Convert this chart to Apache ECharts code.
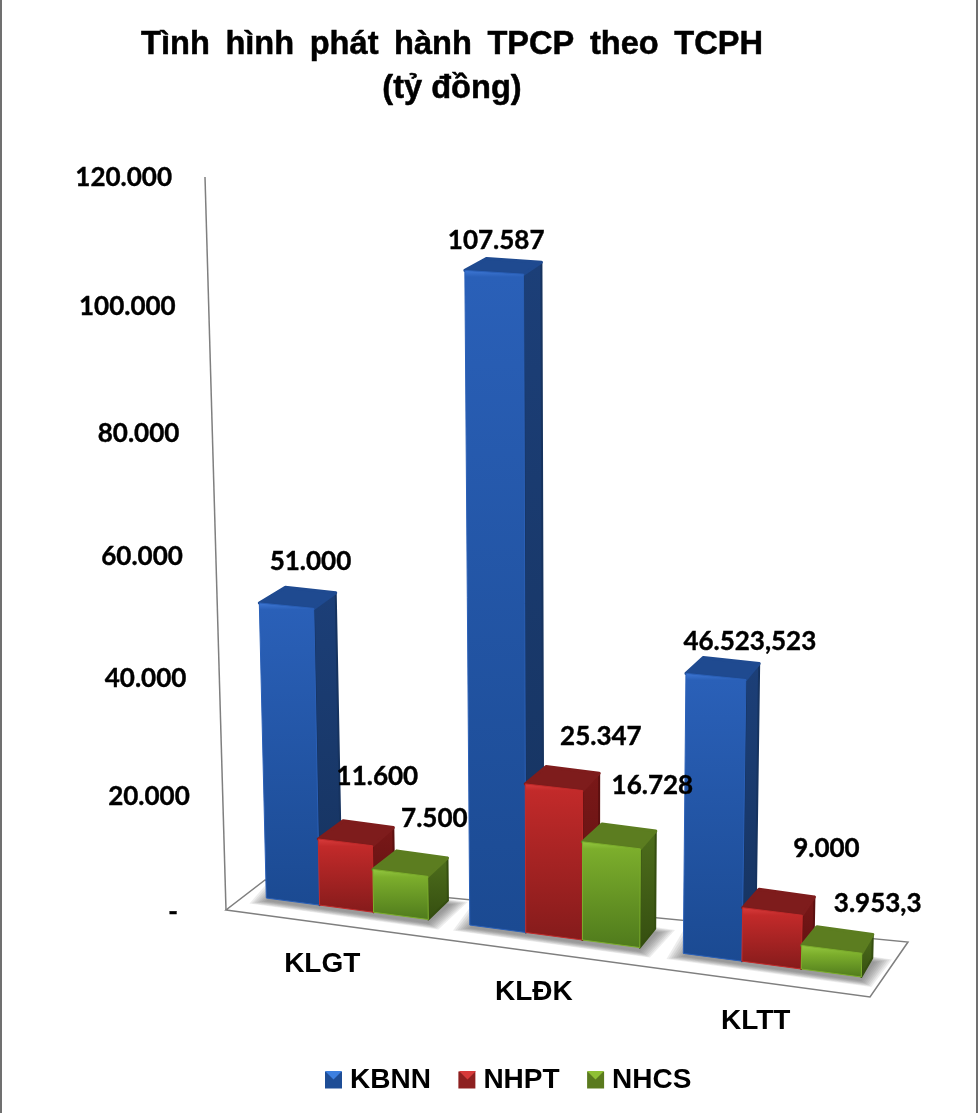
<!DOCTYPE html>
<html>
<head>
<meta charset="utf-8">
<style>
  html, body { margin: 0; padding: 0; background: #fff; }
  #chart { width: 978px; height: 1113px; }
</style>
</head>
<body>
<div id="chart"></div>
<script src="https://cdn.jsdelivr.net/npm/echarts@6/dist/echarts.min.js"></script>
<script>
// ── DATA ───────────────────────────────────────────
const categories = ['KLGT', 'KLĐK', 'KLTT'];
const seriesNames = ['KBNN', 'NHPT', 'NHCS'];
const kbnnValues = [51000, 107587, 46523.523];
const nhptValues = [11600, 25347, 9000];
const nhcsValues = [7500, 16728, 3953.3];
const tickValues = [0, 20000, 40000, 60000, 80000, 100000, 120000];

// ── LAYOUT ─────────────────────────────────────────
// label shift from the middle of a bar's front top edge, hand placed in the original
const labelShift = [
  [[24, -44], [2, -32], [34, -35]],
  [[32, -66], [47, -51], [54, -63]],
  [[34, -54], [41, -60], [46, -46]],
];
const floorCorners = [[226, 910], [870, 997], [908, 942], [265, 880]];
const wallLine = [[205, 177], [226, 910]];
const legendIcons = [325, 459, 587];

const colors = [
  { hi: '#3f78d6', front: '#2a60b8', low: '#1b4a92', top: '#1f4a90', side: '#1c3f78', sideLow: '#16335f', icon: '#1e4d96', iconHi: '#3c7fe0' },
  { hi: '#d93c3c', front: '#c22a2a', low: '#851b1b', top: '#7e1c1c', side: '#7a1818', sideLow: '#5c1010', icon: '#8e2020', iconHi: '#d63a3a' },
  { hi: '#94c840', front: '#7cae2c', low: '#4f7a1c', top: '#5c7d20', side: '#4e6e1c', sideLow: '#354e10', icon: '#5a7a1e', iconHi: '#8fc034' },
];

// ── PROJECTION ─────────────────────────────────────
// flat grid position -> picture position of the tilted 3D box
const warpX = x => x + 5 * Math.pow((x - 554) / 212.5, 2);
const warpH = h => h / (1 - h * 8.78e-5);
const floorY = x => 898 + (x - 266) * 0.1327;
const depthX = x => 26 - 0.02 * (x - 260);
const depthY = h => -19 + 1.3 * h / 115;
const scaleAt = x => 1 + (x - 469) * 0.0001;
const leanX = (x, y, y0) => 565 + (x - 565) * (13500 - y) / (13500 - y0);
const BACK_NARROW = 3; // back edge of a bar is a bit narrower than the front

// point of the front face at floor position x, flat height h
function frontPoint(x, h) {
  const base = floorY(x);
  const y = base - scaleAt(x) * warpH(h);
  return [leanX(x, y, base), y];
}

function grad(stops) {
  return {
    type: 'linear', x: 0, y: 0, x2: 0, y2: 1,
    colorStops: stops.map(([offset, color]) => ({ offset, color })),
  };
}

function fmtValue(v) {
  if (v === 0) return '-';
  const [whole, dec] = String(v).split('.');
  const txt = whole.replace(/\B(?=(\d{3})+$)/g, '.');
  return dec ? `${txt},${dec}` : txt;
}

// ── RENDERERS ──────────────────────────────────────
function renderBar(idx) {
  return (params, api) => {
    const cat = api.value(0);
    const zero = api.coord([cat, 0]);
    const h = zero[1] - api.coord([cat, api.value(1)])[1];
    const band = api.size([1, 0])[0];
    const w = band * 0.8 / 3;
    const x0 = warpX(zero[0] - band * 0.4 + w * idx);
    const x1 = warpX(zero[0] - band * 0.4 + w * (idx + 1));
    const c = colors[idx];

    const tl = frontPoint(x0, h);
    const tr = frontPoint(x1, h);
    const bl = [x0, floorY(x0)];
    const br = [x1, floorY(x1)];
    const dy = depthY(h);
    const backL = [tl[0] + depthX(tl[0]), tl[1] + dy];
    const backR = [tr[0] + depthX(tr[0]) - BACK_NARROW, tr[1] + dy];
    const brBack = [br[0] + depthX(br[0]) - BACK_NARROW, br[1] + depthY(0)];
    const front = br[1] - tr[1];
    const edge = Math.min(0.5, 7 / front);

    return {
      type: 'group',
      children: [
        {
          type: 'polygon',
          shape: { points: [tr, backR, brBack, br] },
          style: { fill: grad([[0, c.side], [1, c.sideLow]]), stroke: c.sideLow, lineWidth: 2, lineJoin: 'round' },
        },
        {
          type: 'polygon',
          shape: { points: [tl, backL, backR, tr] },
          style: { fill: c.top, stroke: c.top, lineWidth: 3, lineJoin: 'round' },
        },
        {
          type: 'polygon',
          shape: { points: [tl, tr, br, bl] },
          style: { fill: grad([[0, c.hi], [edge, c.front], [1, c.low]]), stroke: c.front, lineWidth: 1, lineJoin: 'round' },
        },
      ],
    };
  };
}

// soft shadow on the floor: stacked see-through outlines round the group's footprint
function renderFloorShadow(params, api) {
  const zero = api.coord([api.value(0), 0]);
  const band = api.size([1, 0])[0];
  const x0 = warpX(zero[0] - band * 0.4);
  const x1 = warpX(zero[0] + band * 0.4);
  const dy = depthY(0);
  const children = [];
  for (let k = 7; k >= 0; k--) {
    const e = k * 2.4;
    children.push({
      type: 'polygon',
      shape: {
        points: [
          [x0 - e, floorY(x0) + 3 + e * 0.15],
          [x1 + e * 0.6, floorY(x1) + 4 + e * 0.35],
          [x1 + depthX(x1) + e, floorY(x1) + dy + 4 - e * 0.15],
          [x0 + depthX(x0) - e, floorY(x0) + dy - e * 0.3],
        ],
      },
      style: { fill: 'rgba(90,90,90,0.11)' },
    });
  }
  return { type: 'group', children };
}

function renderCategoryLabel(params, api) {
  const zero = api.coord([api.value(0), 0]);
  const x = warpX(zero[0]);
  return {
    type: 'text',
    style: {
      text: categories[api.value(0)],
      x: x - depthX(x),
      y: floorY(x) + 56,
      textAlign: 'center',
      textVerticalAlign: 'middle',
      font: 'bold 28px "Liberation Sans"',
      fill: '#000',
    },
  };
}

function renderTick(params, api) {
  const zero = api.coord([0, 0]);
  const v = api.value(1);
  const y = zero[1] - warpH(zero[1] - api.coord([0, v])[1]);
  const [a, b] = wallLine;
  const axisX = a[0] + (b[0] - a[0]) * (y - a[1]) / (b[1] - a[1]);
  return {
    type: 'text',
    style: {
      text: fmtValue(v),
      x: axisX - (v === 0 ? 48 : 33),
      y: y + 1,
      textAlign: 'right',
      textVerticalAlign: 'middle',
      font: 'bold 26px Lato',
      fill: '#000',
      stroke: '#000',
      lineWidth: 0.4,
    },
  };
}

function renderValueLabel(params, api) {
  const cat = api.value(0);
  const v = api.value(1);
  const idx = api.value(2);
  const zero = api.coord([cat, 0]);
  const h = zero[1] - api.coord([cat, v])[1];
  const band = api.size([1, 0])[0];
  const w = band * 0.8 / 3;
  const x = warpX(zero[0] - band * 0.4 + w * (idx + 0.5));
  const p = frontPoint(x, h);
  const [sx, sy] = labelShift[idx][cat];
  return {
    type: 'text',
    style: {
      text: fmtValue(v),
      x: p[0] + sx,
      y: p[1] + sy,
      textAlign: 'center',
      textVerticalAlign: 'middle',
      font: 'bold 26px Lato',
      fill: '#000',
      stroke: '#000',
      lineWidth: 0.4,
    },
  };
}

// ── CHART ──────────────────────────────────────────
const seriesValues = [kbnnValues, nhptValues, nhcsValues];
const catRows = categories.map((c, i) => [i, 0]);
const tickRows = tickValues.map(v => [0, v]);
const labelRows = [];
seriesValues.forEach((vals, idx) => vals.forEach((v, cat) => labelRows.push([cat, v, idx])));

const chart = echarts.init(document.getElementById('chart'), null, { renderer: 'canvas' });

chart.setOption({
  animation: false,
  backgroundColor: '#fff',
  title: {
    text: 'Tình \u2009hình \u2009phát \u2009hành \u2009TPCP \u2009theo \u2009TCPH\n(tỷ đồng)',
    left: 452,
    top: 23,
    padding: 0,
    textAlign: 'center',
    textStyle: {
      fontFamily: '"Liberation Sans"', fontWeight: 'bold', fontSize: 32.6, lineHeight: 44, color: '#000',
      textBorderColor: '#000', textBorderWidth: 0.5,
    },
  },
  legend: {
    data: seriesNames,
    left: 325,
    top: 1066,
    padding: 0,
    icon: 'rect',
    itemWidth: 17,
    itemHeight: 17,
    itemGap: 27.5,
    textStyle: { fontFamily: '"Liberation Sans"', fontWeight: 'bold', fontSize: 28, color: '#000', padding: [0, 0, 4, 3] },
  },
  grid: { left: 235.25, right: 105.25, top: 221.6, bottom: 201 },
  xAxis: { type: 'category', data: categories, show: false },
  yAxis: { type: 'value', min: 0, max: 120000, interval: 20000, show: false },
  series: [
    { type: 'custom', name: 'shadow', z: 1, data: catRows, renderItem: renderFloorShadow, silent: true },
    ...seriesNames.map((name, idx) => ({
      type: 'custom',
      name,
      z: 3,
      itemStyle: { color: colors[idx].icon },
      data: seriesValues[idx].map((v, cat) => [cat, v]),
      encode: { x: 0, y: 1 },
      renderItem: renderBar(idx),
    })),
    { type: 'custom', name: 'ticks', z: 4, data: tickRows, renderItem: renderTick, silent: true },
    { type: 'custom', name: 'categories', z: 4, data: catRows, renderItem: renderCategoryLabel, silent: true },
    { type: 'custom', name: 'values', z: 5, data: labelRows, renderItem: renderValueLabel, silent: true },
  ],
  graphic: [
    { type: 'rect', z: 0, shape: { x: 0, y: 0, width: 2, height: 1113 }, style: { fill: '#707070' } },
    { type: 'rect', z: 0, shape: { x: 976, y: 0, width: 2, height: 1113 }, style: { fill: '#707070' } },
    { type: 'polygon', z: 0, shape: { points: floorCorners }, style: { fill: '#fff', stroke: '#7f7f7f', lineWidth: 1.5 } },
    { type: 'polyline', z: 0, shape: { points: wallLine }, style: { stroke: '#7f7f7f', lineWidth: 1.5 } },
    ...legendIcons.map((x, i) => ({
      type: 'polygon',
      z: 10,
      shape: { points: [[x, 1071], [x + 17, 1071], [x + 8.5, 1079.5]] },
      style: { fill: colors[i].iconHi },
    })),
  ],
});
</script>
</body>
</html>
